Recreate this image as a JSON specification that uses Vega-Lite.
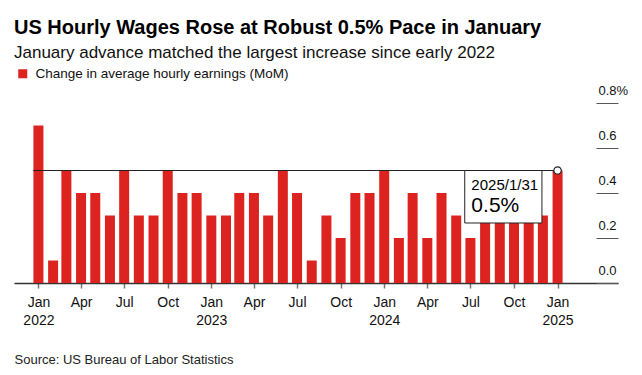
{
  "$schema": "https://vega.github.io/schema/vega-lite/v6.json",
  "width": 604,
  "height": 180,
  "autosize": {"type": "none"},
  "padding": {"left": 14, "top": 103, "right": 24, "bottom": 92},
  "config": {
    "font": "Liberation Sans",
    "view": {"stroke": null},
    "axis": {"grid": false}
  },
  "title": {
    "text": "US Hourly Wages Rose at Robust 0.5% Pace in January",
    "subtitle": "January advance matched the largest increase since early 2022",
    "anchor": "start",
    "frame": "group",
    "fontSize": 20,
    "fontWeight": "bold",
    "color": "#000000",
    "subtitleFontSize": 17,
    "subtitleColor": "#111111",
    "subtitlePadding": 7,
    "offset": 6
  },
  "layer": [
    {
      "data": {
        "values": [
          {"date": "2022-01-01", "value": 0.7},
          {"date": "2022-02-01", "value": 0.1},
          {"date": "2022-03-01", "value": 0.5},
          {"date": "2022-04-01", "value": 0.4},
          {"date": "2022-05-01", "value": 0.4},
          {"date": "2022-06-01", "value": 0.3},
          {"date": "2022-07-01", "value": 0.5},
          {"date": "2022-08-01", "value": 0.3},
          {"date": "2022-09-01", "value": 0.3},
          {"date": "2022-10-01", "value": 0.5},
          {"date": "2022-11-01", "value": 0.4},
          {"date": "2022-12-01", "value": 0.4},
          {"date": "2023-01-01", "value": 0.3},
          {"date": "2023-02-01", "value": 0.3},
          {"date": "2023-03-01", "value": 0.4},
          {"date": "2023-04-01", "value": 0.4},
          {"date": "2023-05-01", "value": 0.3},
          {"date": "2023-06-01", "value": 0.5},
          {"date": "2023-07-01", "value": 0.4},
          {"date": "2023-08-01", "value": 0.1},
          {"date": "2023-09-01", "value": 0.3},
          {"date": "2023-10-01", "value": 0.2},
          {"date": "2023-11-01", "value": 0.4},
          {"date": "2023-12-01", "value": 0.4},
          {"date": "2024-01-01", "value": 0.5},
          {"date": "2024-02-01", "value": 0.2},
          {"date": "2024-03-01", "value": 0.4},
          {"date": "2024-04-01", "value": 0.2},
          {"date": "2024-05-01", "value": 0.4},
          {"date": "2024-06-01", "value": 0.3},
          {"date": "2024-07-01", "value": 0.2},
          {"date": "2024-08-01", "value": 0.4},
          {"date": "2024-09-01", "value": 0.4},
          {"date": "2024-10-01", "value": 0.4},
          {"date": "2024-11-01", "value": 0.4},
          {"date": "2024-12-01", "value": 0.3},
          {"date": "2025-01-01", "value": 0.5}
        ]
      },
      "mark": {"type": "bar", "size": 10},
      "encoding": {
        "x": {
          "field": "date",
          "type": "temporal",
          "scale": {
            "type": "utc",
            "domain": [
              {"year": 2021, "month": 11, "date": 21, "utc": true},
              {"year": 2025, "month": 4, "date": 28, "utc": true}
            ]
          },
          "axis": {
            "values": [
              {"year": 2022, "month": 1, "date": 1, "utc": true},
              {"year": 2022, "month": 4, "date": 1, "utc": true},
              {"year": 2022, "month": 7, "date": 1, "utc": true},
              {"year": 2022, "month": 10, "date": 1, "utc": true},
              {"year": 2023, "month": 1, "date": 1, "utc": true},
              {"year": 2023, "month": 4, "date": 1, "utc": true},
              {"year": 2023, "month": 7, "date": 1, "utc": true},
              {"year": 2023, "month": 10, "date": 1, "utc": true},
              {"year": 2024, "month": 1, "date": 1, "utc": true},
              {"year": 2024, "month": 4, "date": 1, "utc": true},
              {"year": 2024, "month": 7, "date": 1, "utc": true},
              {"year": 2024, "month": 10, "date": 1, "utc": true},
              {"year": 2025, "month": 1, "date": 1, "utc": true}
            ],
            "labelExpr": "utcFormat(datum.value, '%m') == '01' ? [utcFormat(datum.value, '%b'), utcFormat(datum.value, '%Y')] : utcFormat(datum.value, '%b')",
            "labelFontSize": 14,
            "labelColor": "#111111",
            "labelPadding": 7,
            "labelLineHeight": 18,
            "labelBaseline": "top",
            "labelFlush": false,
            "labelOverlap": false,
            "tickSize": 5,
            "tickColor": "#777777",
            "tickWidth": 1.5,
            "domainColor": "#333333",
            "domainWidth": 1.5,
            "title": "Source: US Bureau of Labor Statistics",
            "titleFontSize": 13,
            "titleFontWeight": "normal",
            "titleColor": "#222222",
            "titleAnchor": "start",
            "titleAlign": "left",
            "titleBaseline": "alphabetic",
            "titleX": 0,
            "titleY": 80
          }
        },
        "y": {
          "field": "value",
          "type": "quantitative",
          "scale": {"domain": [0, 0.8], "nice": false},
          "axis": {
            "orient": "right",
            "values": [0, 0.2, 0.4, 0.6, 0.8],
            "labelExpr": "datum.value == 0.8 ? '0.8%' : format(datum.value, '.1f')",
            "domain": false,
            "tickSize": -22,
            "tickColor": "#555555",
            "tickWidth": 1,
            "labelPadding": 2,
            "labelAlign": "left",
            "labelBaseline": "alphabetic",
            "labelOffset": -9,
            "labelFontSize": 13,
            "labelColor": "#111111",
            "title": null
          }
        },
        "color": {
          "datum": "Change in average hourly earnings (MoM)",
          "scale": {"range": ["#dc2320"]},
          "legend": {
            "title": null,
            "orient": "none",
            "legendX": 2,
            "legendY": -36,
            "symbolType": "square",
            "symbolSize": 81,
            "symbolStrokeWidth": 0,
            "labelFontSize": 13.5,
            "labelLimit": 500,
            "labelColor": "#111111",
            "labelOffset": 6,
            "padding": 0
          }
        }
      }
    },
    {
      "data": {"values": [{"start": "2021-12-21", "end": "2025-01-01", "level": 0.5}]},
      "mark": {"type": "rule", "color": "#222222", "strokeWidth": 1.2},
      "encoding": {
        "x": {"field": "start", "type": "temporal"},
        "x2": {"field": "end"},
        "y": {"field": "level", "type": "quantitative"}
      }
    },
    {
      "data": {"values": [{"x0": "2024-06-19", "x1": "2024-11-29", "top": 0.5, "bottom": 0.2667}]},
      "mark": {"type": "rect", "fill": "#ffffff", "stroke": "#222222", "strokeWidth": 1},
      "encoding": {
        "x": {"field": "x0", "type": "temporal"},
        "x2": {"field": "x1"},
        "y": {"field": "top", "type": "quantitative"},
        "y2": {"field": "bottom"}
      }
    },
    {
      "data": {"values": [
        {"x": "2024-07-03", "y": 0.4133, "label": "2025/1/31", "size": 15},
        {"x": "2024-07-03", "y": 0.3147, "label": "0.5%", "size": 21}
      ]},
      "mark": {"type": "text", "align": "left", "baseline": "alphabetic", "color": "#000000"},
      "encoding": {
        "x": {"field": "x", "type": "temporal"},
        "y": {"field": "y", "type": "quantitative"},
        "text": {"field": "label"},
        "size": {"field": "size", "type": "quantitative", "scale": null}
      }
    },
    {
      "data": {"values": [{"date": "2025-01-01", "value": 0.5}]},
      "mark": {"type": "point", "shape": "circle", "filled": true, "fill": "#ffffff", "stroke": "#222222", "strokeWidth": 1.2, "size": 55, "opacity": 1},
      "encoding": {
        "x": {"field": "date", "type": "temporal"},
        "y": {"field": "value", "type": "quantitative"}
      }
    }
  ]
}
